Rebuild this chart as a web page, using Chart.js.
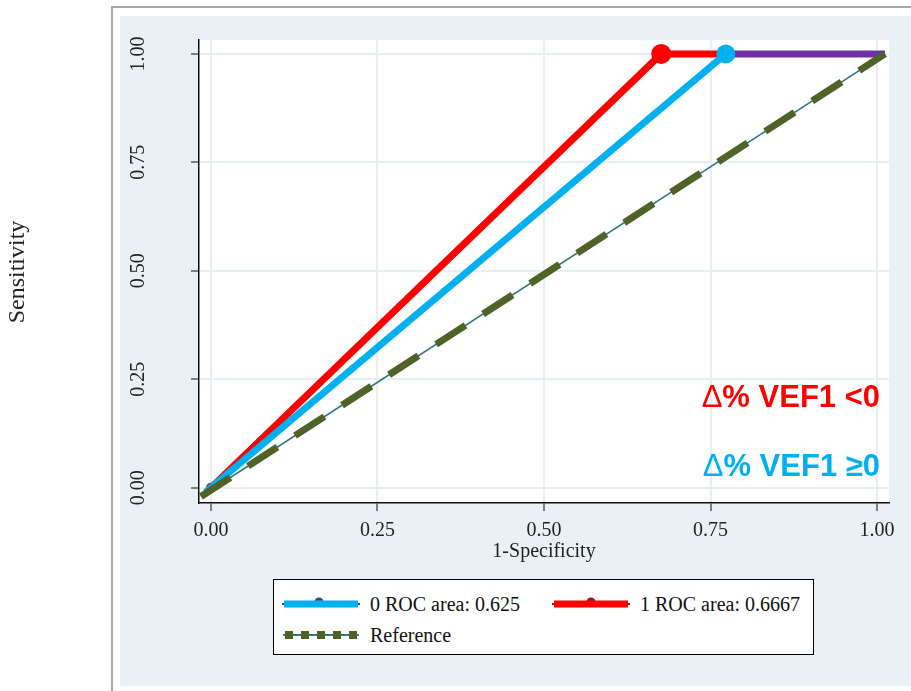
<!DOCTYPE html>
<html>
<head>
<meta charset="utf-8">
<script src="https://cdn.jsdelivr.net/npm/chart.js@4.4.0/dist/chart.umd.min.js"></script>
<style>
  body { margin: 0; background: #fff; width: 911px; height: 691px; overflow: hidden; position: relative;
         font-family: "Liberation Serif", "Times New Roman", serif; }
  #frame { position: absolute; left: 111px; top: 6px; width: 800px; height: 685px;
           border-left: 2px solid #a8a8a8; border-top: 2px solid #a8a8a8; box-sizing: border-box; }
  #panel { position: absolute; left: 120px; top: 16px; right: 0; bottom: 5px; background: #eaf1f4; }
  #wrap { position: absolute; left: 0; top: 0; width: 911px; height: 691px; }
  #legend { position: absolute; left: 273px; top: 579px; width: 541px; height: 76px;
            border: 1px solid #000; background: #fff; box-sizing: border-box; }
  .txt { position: absolute; font-size: 20px; line-height: 24px; color: #111; white-space: nowrap; }
  .smp { position: absolute; }
</style>
</head>
<body>
<div id="frame"></div>
<div id="panel"></div>
<div id="wrap"><canvas id="roc" width="911" height="691"></canvas></div>
<div id="legend">
  <svg class="smp" style="left:8px;top:14px" width="78" height="20">
    <line x1="0" y1="10" x2="78" y2="10" stroke="#1f4e79" stroke-width="2"/>
    <circle cx="37" cy="8" r="4.5" fill="#1f4e79"/>
    <rect x="2" y="6.5" width="74" height="7" fill="#00b0f0"/>
  </svg>
  <div class="txt" style="left:96px;top:12px">0 ROC area: 0.625</div>
  <svg class="smp" style="left:278px;top:14px" width="78" height="20">
    <line x1="0" y1="10" x2="78" y2="10" stroke="#8b1a1a" stroke-width="2"/>
    <circle cx="39" cy="8" r="4.5" fill="#a01515"/>
    <rect x="2" y="6.5" width="74" height="7" fill="#ff0000"/>
  </svg>
  <div class="txt" style="left:366px;top:12px">1 ROC area: 0.6667</div>
  <svg class="smp" style="left:8px;top:45px" width="78" height="20">
    <line x1="1" y1="10" x2="77" y2="10" stroke="#31797a" stroke-width="2"/>
    <rect x="3" y="6" width="8" height="8" fill="#4f6228"/>
    <rect x="19" y="6" width="8" height="8" fill="#4f6228"/>
    <rect x="35" y="6" width="8" height="8" fill="#4f6228"/>
    <rect x="51" y="6" width="8" height="8" fill="#4f6228"/>
    <rect x="67" y="6" width="8" height="8" fill="#4f6228"/>
  </svg>
  <div class="txt" style="left:96px;top:43px">Reference</div>
</div>
<script>
// values (1-specificity, sensitivity)
const refX = [-0.015, 1.012];
const refY = [-0.02, 1.0];
const roc0X = [-0.008, 0.773];
const roc0Y = [-0.01, 1.0];
const roc1X = [0, 0.676, 0.773];
const roc1Y = [0, 1.0, 1.0];
const tailX = [0.773, 1.012];
const tailY = [1.0, 1.0];
const xTicks = [0, 0.25, 0.5, 0.75, 1];
const yTicks = [0, 0.25, 0.5, 0.75, 1];

function pts(xs, ys) {
  return xs.map((x, i) => ({ x: x, y: ys[i] }));
}

const serif = "'Liberation Serif', 'Times New Roman', serif";
Chart.defaults.font.family = serif;

const bgPlugin = {
  id: "bg",
  beforeDraw(chart) {
    const a = chart.chartArea, ctx = chart.ctx;
    ctx.save();
    ctx.fillStyle = "#fff";
    ctx.fillRect(a.left, a.top, a.right - a.left, a.bottom - a.top);
    ctx.restore();
  }
};

const textPlugin = {
  id: "texts",
  afterDraw(chart) {
    const ctx = chart.ctx, ys = chart.scales.y, xs = chart.scales.x;
    ctx.save();
    // y tick labels, rotated
    ctx.fillStyle = "#222";
    ctx.font = "20px " + serif;
    ctx.textAlign = "center";
    ctx.textBaseline = "middle";
    yTicks.forEach(v => {
      ctx.save();
      ctx.translate(139, ys.getPixelForValue(v));
      ctx.rotate(-Math.PI / 2);
      ctx.fillText(v.toFixed(2), 0, 0);
      ctx.restore();
    });
    // y title
    ctx.save();
    ctx.translate(18, 272);
    ctx.rotate(-Math.PI / 2);
    ctx.font = "24px " + serif;
    ctx.fillText("Sensitivity", 0, 0);
    ctx.restore();
    // group labels
    const right = xs.getPixelForValue(1) + 3;
    function label(rest, color, y) {
      ctx.fillStyle = color;
      ctx.textAlign = "left";
      ctx.textBaseline = "alphabetic";
      ctx.font = "bold 31px 'Liberation Sans', Arial, sans-serif";
      const w2 = ctx.measureText(rest).width;
      ctx.font = "31px 'Liberation Sans', Arial, sans-serif";
      const w1 = ctx.measureText("\u0394").width;
      const x0 = right - w2 - w1;
      ctx.fillText("\u0394", x0, y);
      ctx.font = "bold 31px 'Liberation Sans', Arial, sans-serif";
      ctx.fillText(rest, x0 + w1, y);
    }
    label("% VEF1 <0", "#ff0000", 407);
    label("% VEF1 \u22650", "#00b0f0", 476);
    ctx.restore();
  }
};

new Chart(document.getElementById("roc"), {
  type: "line",
  data: {
    datasets: [
      {
        label: "Reference dashes", data: pts(refX, refY), order: 1,
        borderColor: "#4f6228", borderWidth: 7, borderDash: [35, 21], borderCapStyle: "butt",
        pointRadius: 0
      },
      {
        label: "Reference", data: pts(refX, refY), order: 2,
        borderColor: "#31797a", borderWidth: 1.6, pointRadius: 0
      },
      {
        label: "0 ROC area: 0.625", data: pts(roc0X, roc0Y), order: 3,
        borderColor: "#00b0f0", borderWidth: 7, borderCapStyle: "butt",
        pointRadius: [0, 9.5], pointBackgroundColor: "#00b0f0", pointBorderWidth: 0
      },
      {
        label: "overlap", data: pts(tailX, tailY), order: 4,
        borderColor: "#7030a0", borderWidth: 7, borderCapStyle: "butt", pointRadius: 0
      },
      {
        label: "1 ROC area: 0.6667", data: pts(roc1X, roc1Y), order: 5,
        borderColor: "#ff0000", borderWidth: 7, borderCapStyle: "butt", borderJoinStyle: "round",
        pointRadius: [5, 10, 0], pointBackgroundColor: ["#8b2e2e", "#ff0000", "#ff0000"],
        pointBorderWidth: 0
      }
    ]
  },
  options: {
    responsive: false,
    animation: false,
    devicePixelRatio: 1,
    layout: { padding: { left: 159, right: 22, top: 40, bottom: 123 } },
    plugins: { legend: { display: false }, tooltip: { enabled: false } },
    elements: { line: { tension: 0, fill: false } },
    scales: {
      x: {
        type: "linear", min: -0.018, max: 1.018,
        afterBuildTicks: s => { s.ticks = xTicks.map(v => ({ value: v })); },
        afterFit: s => { s.height = 65; },
        grid: { color: "#e7eff3", lineWidth: 2, tickColor: "#111", tickLength: 8, tickWidth: 1 },
        border: { color: "#111", width: 1.5 },
        ticks: { color: "#222", font: { size: 20 }, padding: 8, maxRotation: 0,
                 callback: v => Number(v).toFixed(2) },
        title: { display: true, text: "1-Specificity", color: "#222", font: { size: 20 },
                 padding: { top: 0, bottom: 4 } }
      },
      y: {
        type: "linear", min: -0.035, max: 1.032,
        afterBuildTicks: s => { s.ticks = yTicks.map(v => ({ value: v })); },
        afterFit: s => { s.width = 40; },
        grid: { color: "#e7eff3", lineWidth: 2, tickColor: "#111", tickLength: 8, tickWidth: 1 },
        border: { color: "#111", width: 1.5 },
        ticks: { display: false }
      }
    }
  },
  plugins: [bgPlugin, textPlugin]
});
</script>
</body>
</html>
